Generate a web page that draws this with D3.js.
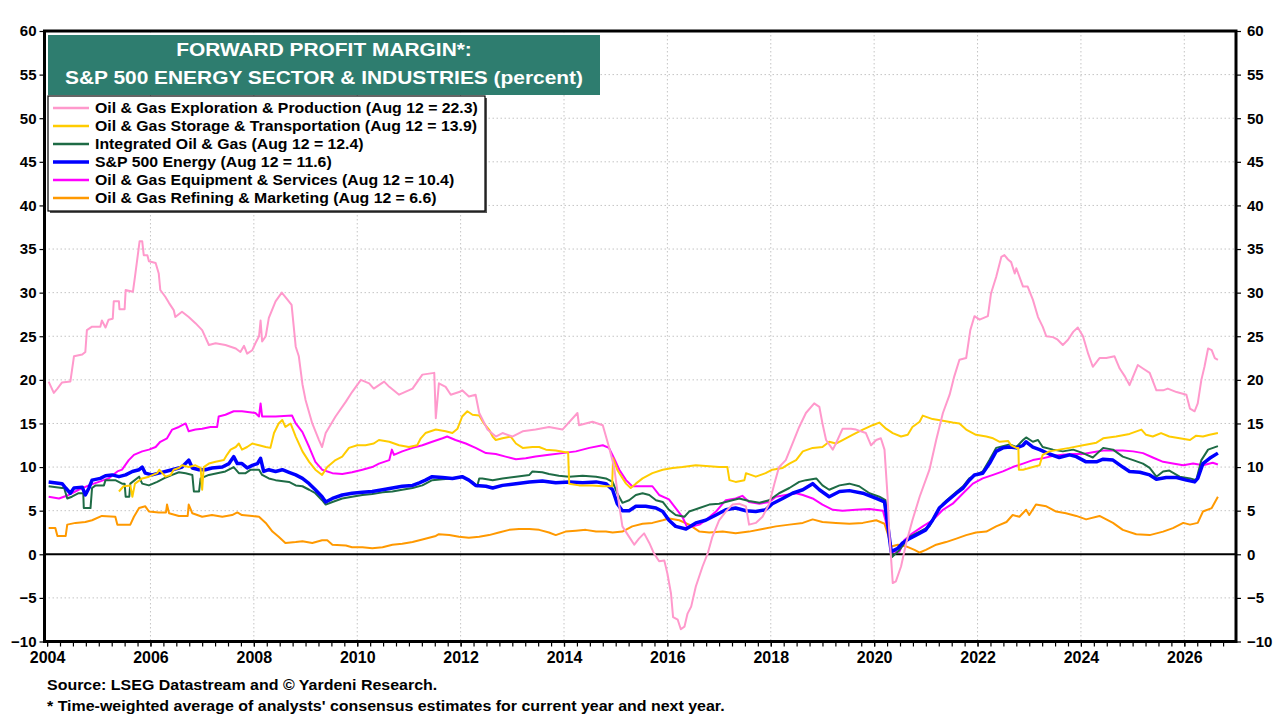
<!DOCTYPE html>
<html>
<head>
<meta charset="utf-8">
<script src="https://cdn.jsdelivr.net/npm/d3@7"></script>
<style>
  body { margin: 0; background: #fff; }
  svg { display: block; }
  text { font-family: "Liberation Sans", Arial, sans-serif; font-weight: bold; }
</style>
</head>
<body>
<div id="chart"></div>
<script>
/* DATA: [decimal year, percent] */
const explorationProduction = [[2004.03,19.8],[2004.13,18.5],[2004.2,19.0],[2004.29,19.7],[2004.45,19.8],[2004.52,22.7],[2004.68,22.9],[2004.74,23.2],[2004.77,25.7],[2004.87,26.1],[2005.03,26.1],[2005.06,26.8],[2005.13,26.0],[2005.19,26.9],[2005.27,27.0],[2005.29,29.0],[2005.39,29.0],[2005.4,28.1],[2005.5,28.1],[2005.52,30.3],[2005.66,30.1],[2005.7,31.8],[2005.79,35.9],[2005.84,35.9],[2005.87,34.3],[2005.94,34.3],[2005.97,33.6],[2006.1,33.4],[2006.16,32.2],[2006.19,30.3],[2006.29,29.5],[2006.36,28.8],[2006.45,28.0],[2006.48,27.2],[2006.61,27.8],[2006.74,27.2],[2006.87,26.5],[2007.0,25.7],[2007.13,24.0],[2007.26,24.2],[2007.45,24.0],[2007.65,23.6],[2007.74,23.2],[2007.81,23.9],[2007.87,23.0],[2007.97,23.4],[2008.03,24.2],[2008.1,25.0],[2008.13,26.8],[2008.16,24.4],[2008.23,25.0],[2008.29,27.1],[2008.42,29.0],[2008.54,30.0],[2008.65,29.2],[2008.73,28.6],[2008.81,23.8],[2008.87,22.7],[2008.94,19.5],[2009.0,17.7],[2009.13,15.0],[2009.26,13.1],[2009.32,12.3],[2009.39,13.9],[2009.58,15.8],[2009.78,17.5],[2009.9,18.6],[2010.07,20.0],[2010.23,19.6],[2010.32,19.0],[2010.52,19.8],[2010.62,19.2],[2010.81,18.3],[2011.07,19.0],[2011.26,20.6],[2011.49,20.8],[2011.52,15.6],[2011.58,19.6],[2011.71,19.2],[2011.81,18.3],[2011.97,18.6],[2012.03,18.8],[2012.16,18.1],[2012.29,18.3],[2012.36,16.2],[2012.52,14.3],[2012.68,13.5],[2012.81,13.9],[2013.0,13.5],[2013.2,14.1],[2013.45,14.3],[2013.71,14.6],[2013.97,14.3],[2014.26,16.2],[2014.29,14.8],[2014.55,15.2],[2014.75,14.8],[2014.87,12.3],[2014.97,10.0],[2015.07,5.5],[2015.13,3.2],[2015.26,2.0],[2015.36,1.1],[2015.45,1.8],[2015.55,2.4],[2015.65,1.3],[2015.74,0.1],[2015.84,-0.8],[2015.94,-0.7],[2016.0,-2.2],[2016.07,-4.5],[2016.11,-7.2],[2016.2,-7.5],[2016.26,-8.6],[2016.33,-8.3],[2016.39,-6.8],[2016.46,-6.0],[2016.55,-3.7],[2016.68,-1.4],[2016.78,0.1],[2016.87,2.0],[2017.0,3.9],[2017.13,4.9],[2017.26,5.7],[2017.39,5.8],[2017.52,5.5],[2017.58,3.4],[2017.71,3.6],[2017.84,4.3],[2017.97,5.8],[2018.07,8.1],[2018.16,10.0],[2018.29,10.8],[2018.42,12.7],[2018.55,14.6],[2018.68,16.2],[2018.84,17.3],[2018.94,16.9],[2019.0,15.0],[2019.07,13.1],[2019.2,12.0],[2019.26,12.7],[2019.39,14.4],[2019.55,14.4],[2019.65,14.3],[2019.84,13.9],[2019.94,12.5],[2020.04,13.1],[2020.13,13.3],[2020.2,12.0],[2020.26,6.6],[2020.29,2.8],[2020.33,-0.7],[2020.36,-3.3],[2020.42,-3.1],[2020.52,-1.4],[2020.62,1.3],[2020.74,3.9],[2020.88,6.6],[2021.07,9.7],[2021.2,13.1],[2021.33,16.2],[2021.46,18.3],[2021.55,20.4],[2021.65,22.3],[2021.78,22.5],[2021.86,25.7],[2021.94,27.3],[2022.04,26.9],[2022.2,27.3],[2022.26,29.9],[2022.36,31.8],[2022.46,34.1],[2022.52,34.3],[2022.59,33.8],[2022.65,33.5],[2022.72,32.2],[2022.75,32.8],[2022.88,30.7],[2022.97,30.7],[2023.07,29.2],[2023.17,27.2],[2023.26,26.1],[2023.33,25.0],[2023.46,24.9],[2023.55,24.6],[2023.65,24.0],[2023.75,24.6],[2023.85,25.5],[2023.94,26.0],[2024.04,25.0],[2024.14,23.0],[2024.23,21.5],[2024.36,22.5],[2024.49,22.5],[2024.65,22.7],[2024.75,21.3],[2024.85,20.4],[2024.94,19.4],[2025.01,20.4],[2025.1,21.7],[2025.2,21.3],[2025.33,20.8],[2025.46,18.8],[2025.59,18.8],[2025.68,19.0],[2025.85,18.6],[2026.04,18.3],[2026.11,16.7],[2026.2,16.4],[2026.26,17.3],[2026.33,20.0],[2026.39,21.5],[2026.46,23.6],[2026.53,23.4],[2026.59,22.5],[2026.65,22.3]];

const storageTransportation = [[2005.39,7.2],[2005.48,7.8],[2005.61,7.9],[2005.65,6.6],[2005.7,8.1],[2005.84,8.7],[2005.97,8.9],[2006.13,9.3],[2006.17,9.7],[2006.29,8.9],[2006.39,9.1],[2006.45,9.7],[2006.55,9.9],[2006.61,10.2],[2006.74,10.0],[2006.87,10.2],[2006.97,9.9],[2007.0,7.4],[2007.03,10.0],[2007.13,10.4],[2007.26,10.6],[2007.42,10.8],[2007.48,11.4],[2007.55,12.0],[2007.65,12.3],[2007.71,12.7],[2007.77,12.0],[2007.87,12.3],[2007.97,12.7],[2008.1,12.5],[2008.23,12.3],[2008.32,12.2],[2008.39,13.9],[2008.48,15.0],[2008.55,15.4],[2008.61,14.6],[2008.71,15.0],[2008.81,13.5],[2008.94,11.8],[2009.07,10.6],[2009.19,9.7],[2009.32,9.1],[2009.42,10.0],[2009.58,10.8],[2009.71,11.2],[2009.84,12.2],[2010.0,12.5],[2010.16,12.5],[2010.32,12.7],[2010.42,13.1],[2010.62,12.9],[2010.81,12.5],[2011.0,12.3],[2011.16,12.5],[2011.23,13.3],[2011.32,13.9],[2011.52,14.3],[2011.71,14.1],[2011.84,13.9],[2011.94,14.4],[2012.03,15.8],[2012.13,16.4],[2012.23,16.0],[2012.36,15.9],[2012.45,15.0],[2012.55,14.3],[2012.62,13.5],[2012.68,13.1],[2012.81,13.3],[2012.97,13.5],[2013.07,12.7],[2013.2,12.2],[2013.39,12.3],[2013.52,12.3],[2013.65,12.0],[2013.84,11.9],[2014.03,11.7],[2014.08,11.7],[2014.1,8.1],[2014.29,7.9],[2014.55,7.9],[2014.75,7.8],[2014.93,7.8],[2014.95,11.0],[2015.03,9.7],[2015.07,9.3],[2015.2,8.1],[2015.29,7.6],[2015.39,8.1],[2015.52,8.7],[2015.71,9.3],[2015.91,9.7],[2016.1,9.9],[2016.29,10.0],[2016.55,10.2],[2016.81,10.1],[2017.0,10.0],[2017.16,10.0],[2017.2,8.5],[2017.32,8.3],[2017.49,8.5],[2017.52,9.3],[2017.71,8.9],[2017.9,9.3],[2018.03,9.7],[2018.23,9.9],[2018.36,10.4],[2018.49,10.8],[2018.62,11.8],[2018.81,12.2],[2019.0,12.3],[2019.13,12.9],[2019.26,12.7],[2019.39,13.1],[2019.58,13.7],[2019.78,14.3],[2019.97,14.8],[2020.1,15.1],[2020.23,14.4],[2020.36,13.9],[2020.52,13.5],[2020.65,13.7],[2020.74,14.6],[2020.88,15.2],[2020.94,15.9],[2021.13,15.5],[2021.33,15.3],[2021.52,15.1],[2021.65,15.0],[2021.78,14.3],[2021.97,13.7],[2022.17,13.5],[2022.3,13.3],[2022.43,12.9],[2022.59,13.0],[2022.65,12.5],[2022.75,12.2],[2022.79,12.2],[2022.8,9.7],[2022.88,9.7],[2023.07,10.0],[2023.2,10.2],[2023.26,11.4],[2023.39,11.8],[2023.58,12.0],[2023.78,12.2],[2024.04,12.5],[2024.3,12.8],[2024.43,13.3],[2024.68,13.5],[2024.94,13.8],[2025.17,14.3],[2025.26,13.7],[2025.39,13.5],[2025.55,13.9],[2025.71,13.5],[2025.91,13.3],[2026.11,13.1],[2026.23,13.6],[2026.36,13.5],[2026.49,13.7],[2026.65,13.9]];

const integratedOilGas = [[2004.03,7.8],[2004.29,7.6],[2004.33,7.6],[2004.39,6.4],[2004.48,6.6],[2004.61,7.0],[2004.7,7.0],[2004.71,5.3],[2004.84,5.3],[2004.87,7.6],[2004.94,7.9],[2005.1,7.9],[2005.13,8.5],[2005.32,8.5],[2005.45,8.1],[2005.5,8.1],[2005.52,6.6],[2005.59,6.6],[2005.61,8.1],[2005.78,8.9],[2005.84,8.1],[2005.97,7.9],[2006.13,8.3],[2006.26,8.7],[2006.42,9.1],[2006.55,9.4],[2006.68,9.3],[2006.81,9.1],[2006.84,7.2],[2006.94,7.2],[2006.97,8.7],[2007.13,9.1],[2007.29,9.3],[2007.45,9.5],[2007.61,10.0],[2007.71,9.3],[2007.84,9.3],[2007.94,9.7],[2008.1,9.7],[2008.16,9.1],[2008.29,8.7],[2008.42,8.5],[2008.68,8.3],[2008.81,7.9],[2008.94,7.8],[2009.07,7.4],[2009.19,7.0],[2009.32,6.2],[2009.39,5.7],[2009.52,6.0],[2009.71,6.4],[2009.9,6.6],[2010.1,6.8],[2010.29,6.9],[2010.49,7.1],[2010.68,7.2],[2010.87,7.4],[2011.07,7.6],[2011.26,7.9],[2011.45,8.5],[2011.65,8.6],[2011.84,8.7],[2012.03,8.9],[2012.23,8.3],[2012.32,7.8],[2012.36,8.7],[2012.42,8.7],[2012.62,8.5],[2012.81,8.7],[2013.07,8.9],[2013.33,9.1],[2013.39,9.5],[2013.58,9.4],[2013.71,9.2],[2013.9,9.0],[2014.1,8.9],[2014.36,9.0],[2014.62,8.9],[2014.81,8.7],[2014.94,8.3],[2015.03,7.0],[2015.13,5.9],[2015.26,6.2],[2015.39,6.8],[2015.52,7.0],[2015.65,6.8],[2015.78,6.2],[2015.91,6.0],[2016.03,5.1],[2016.16,4.5],[2016.33,4.3],[2016.42,4.9],[2016.62,5.3],[2016.81,5.7],[2017.0,5.8],[2017.2,6.1],[2017.39,6.4],[2017.58,6.1],[2017.78,5.9],[2017.97,6.2],[2018.16,7.0],[2018.36,7.6],[2018.55,8.3],[2018.68,8.5],[2018.88,8.7],[2019.0,7.9],[2019.13,7.4],[2019.33,7.9],[2019.52,8.1],[2019.71,7.8],[2019.91,7.0],[2020.1,6.6],[2020.22,6.2],[2020.29,2.0],[2020.35,-0.3],[2020.49,0.5],[2020.68,2.0],[2020.88,2.6],[2021.07,3.2],[2021.2,4.7],[2021.33,5.8],[2021.52,6.8],[2021.72,7.8],[2021.84,8.7],[2021.97,9.1],[2022.1,9.5],[2022.23,10.8],[2022.36,12.2],[2022.49,12.4],[2022.62,12.6],[2022.75,12.3],[2022.88,13.1],[2022.94,13.4],[2023.07,12.9],[2023.17,13.1],[2023.26,12.3],[2023.46,12.0],[2023.65,11.8],[2023.85,12.0],[2024.04,11.6],[2024.23,11.1],[2024.43,12.2],[2024.62,12.0],[2024.81,11.2],[2025.01,10.8],[2025.2,10.4],[2025.33,9.9],[2025.46,8.9],[2025.59,9.5],[2025.71,9.6],[2025.91,8.9],[2026.11,8.7],[2026.23,8.5],[2026.33,10.8],[2026.46,12.0],[2026.65,12.4]];

const energySector = [[2004.03,8.3],[2004.29,8.1],[2004.36,7.6],[2004.45,7.0],[2004.52,7.6],[2004.68,7.7],[2004.74,6.8],[2004.81,7.6],[2004.87,8.5],[2005.03,8.7],[2005.13,9.0],[2005.26,9.1],[2005.39,8.9],[2005.52,9.1],[2005.65,9.5],[2005.78,9.7],[2005.84,10.0],[2005.9,9.3],[2006.03,9.1],[2006.16,9.3],[2006.29,9.5],[2006.42,9.7],[2006.55,9.9],[2006.61,10.0],[2006.74,10.8],[2006.81,9.9],[2006.94,9.7],[2007.06,9.7],[2007.19,9.9],[2007.39,10.0],[2007.52,10.4],[2007.61,11.2],[2007.68,10.4],[2007.77,10.4],[2007.87,9.9],[2007.97,10.2],[2008.07,10.4],[2008.13,11.0],[2008.19,9.5],[2008.29,9.7],[2008.42,9.5],[2008.55,9.7],[2008.68,9.4],[2008.81,9.1],[2008.94,8.7],[2009.07,8.1],[2009.19,7.4],[2009.32,6.6],[2009.39,6.0],[2009.52,6.4],[2009.71,6.8],[2009.9,7.0],[2010.1,7.1],[2010.29,7.2],[2010.49,7.4],[2010.68,7.6],[2010.87,7.8],[2011.07,7.9],[2011.2,8.2],[2011.32,8.5],[2011.45,8.9],[2011.65,8.8],[2011.84,8.7],[2012.03,8.9],[2012.16,8.5],[2012.29,7.9],[2012.49,7.8],[2012.62,7.6],[2012.81,7.9],[2013.07,8.1],[2013.33,8.3],[2013.58,8.4],[2013.84,8.2],[2014.1,8.3],[2014.36,8.2],[2014.62,8.3],[2014.81,8.1],[2014.94,7.4],[2015.03,5.8],[2015.13,5.0],[2015.26,5.0],[2015.39,5.5],[2015.58,5.5],[2015.78,5.3],[2015.91,4.9],[2016.03,3.9],[2016.16,3.2],[2016.36,2.9],[2016.55,3.6],[2016.74,3.9],[2016.94,4.5],[2017.13,5.1],[2017.32,5.3],[2017.52,5.0],[2017.71,4.9],[2017.9,5.1],[2018.03,5.8],[2018.23,6.4],[2018.42,7.0],[2018.62,7.4],[2018.81,8.1],[2018.94,7.4],[2019.13,6.6],[2019.33,7.2],[2019.52,7.3],[2019.78,7.0],[2020.04,6.4],[2020.2,6.0],[2020.26,3.5],[2020.33,0.3],[2020.46,0.7],[2020.55,1.3],[2020.68,1.8],[2020.81,2.2],[2021.0,2.8],[2021.13,3.9],[2021.26,5.3],[2021.39,6.0],[2021.59,7.0],[2021.72,7.6],[2021.84,8.5],[2021.94,9.1],[2022.1,9.3],[2022.23,10.4],[2022.36,11.8],[2022.49,12.2],[2022.62,12.3],[2022.75,12.2],[2022.88,12.5],[2022.94,12.9],[2023.07,12.3],[2023.2,12.0],[2023.39,11.5],[2023.58,11.1],[2023.78,11.4],[2023.91,11.2],[2024.1,10.6],[2024.3,10.6],[2024.43,10.9],[2024.62,10.8],[2024.81,10.0],[2024.94,9.5],[2025.14,9.4],[2025.33,9.1],[2025.46,8.6],[2025.65,8.8],[2025.85,8.8],[2026.04,8.5],[2026.2,8.3],[2026.26,8.7],[2026.36,10.4],[2026.49,11.0],[2026.65,11.6]];

const equipmentServices = [[2004.03,6.6],[2004.23,6.4],[2004.42,6.8],[2004.61,7.4],[2004.81,7.9],[2005.0,8.3],[2005.19,8.7],[2005.36,9.5],[2005.45,9.7],[2005.58,10.8],[2005.68,11.4],[2005.84,11.8],[2005.97,12.0],[2006.1,12.3],[2006.19,12.9],[2006.32,13.3],[2006.42,14.3],[2006.55,14.6],[2006.68,15.0],[2006.74,14.1],[2006.87,14.3],[2007.0,14.4],[2007.16,14.6],[2007.29,14.6],[2007.32,15.8],[2007.45,16.0],[2007.61,16.4],[2007.77,16.4],[2008.03,16.2],[2008.1,15.8],[2008.13,17.3],[2008.16,15.8],[2008.42,15.8],[2008.74,15.9],[2008.81,15.0],[2008.94,14.0],[2009.07,12.3],[2009.19,10.6],[2009.32,9.7],[2009.52,9.3],[2009.71,9.2],[2009.9,9.4],[2010.1,9.7],[2010.29,10.0],[2010.42,10.4],[2010.62,10.8],[2010.67,12.0],[2010.71,11.4],[2010.87,11.8],[2011.07,12.2],[2011.26,12.5],[2011.45,12.9],[2011.65,13.3],[2011.74,13.5],[2011.9,13.1],[2012.1,12.7],[2012.29,12.2],[2012.49,11.6],[2012.68,11.5],[2012.87,11.2],[2013.07,10.9],[2013.26,11.0],[2013.45,11.2],[2013.71,11.4],[2013.97,11.6],[2014.23,11.8],[2014.49,12.2],[2014.75,12.5],[2014.87,12.2],[2014.97,11.0],[2015.07,9.7],[2015.2,8.5],[2015.32,7.8],[2015.52,7.8],[2015.71,7.8],[2015.84,6.8],[2016.03,6.3],[2016.16,5.3],[2016.29,4.3],[2016.39,3.0],[2016.49,3.2],[2016.62,3.4],[2016.74,3.9],[2016.94,4.9],[2017.13,6.2],[2017.32,6.4],[2017.45,6.7],[2017.58,6.0],[2017.78,5.8],[2017.97,6.0],[2018.1,6.6],[2018.29,6.8],[2018.49,7.0],[2018.62,6.8],[2018.81,6.4],[2019.0,5.7],[2019.2,5.1],[2019.39,5.0],[2019.65,5.1],[2019.91,5.2],[2020.17,5.0],[2020.26,3.0],[2020.34,0.3],[2020.49,0.3],[2020.58,1.6],[2020.74,2.4],[2020.94,3.2],[2021.13,3.9],[2021.33,5.1],[2021.52,5.8],[2021.72,7.0],[2021.91,8.1],[2022.1,8.7],[2022.3,9.1],[2022.49,9.5],[2022.68,10.0],[2022.88,10.4],[2023.07,10.8],[2023.26,11.0],[2023.46,11.3],[2023.65,11.4],[2023.85,11.5],[2024.04,11.5],[2024.23,11.7],[2024.43,11.9],[2024.62,11.9],[2024.81,11.9],[2025.01,11.8],[2025.2,11.6],[2025.39,11.1],[2025.59,10.6],[2025.78,10.4],[2025.98,10.2],[2026.17,10.4],[2026.36,10.2],[2026.55,10.5],[2026.65,10.3]];

const refiningMarketing = [[2004.03,3.0],[2004.16,3.0],[2004.2,2.1],[2004.36,2.1],[2004.39,3.4],[2004.55,3.6],[2004.74,3.7],[2004.87,3.9],[2005.06,4.4],[2005.32,4.3],[2005.36,3.4],[2005.61,3.4],[2005.68,4.3],[2005.78,5.3],[2005.9,5.5],[2005.97,4.9],[2006.16,4.8],[2006.3,4.8],[2006.32,5.7],[2006.36,4.7],[2006.55,4.4],[2006.72,4.4],[2006.74,5.7],[2006.81,4.7],[2007.0,4.3],[2007.19,4.5],[2007.39,4.3],[2007.58,4.5],[2007.68,4.8],[2007.77,4.5],[2007.97,4.4],[2008.1,4.3],[2008.23,3.6],[2008.36,2.6],[2008.48,2.0],[2008.61,1.3],[2008.81,1.4],[2008.94,1.5],[2009.13,1.3],[2009.32,1.6],[2009.42,1.6],[2009.52,1.1],[2009.78,1.0],[2009.9,0.8],[2010.1,0.8],[2010.29,0.7],[2010.49,0.8],[2010.68,1.1],[2010.87,1.2],[2011.07,1.4],[2011.26,1.7],[2011.52,2.1],[2011.58,2.3],[2011.78,2.2],[2011.97,2.0],[2012.16,1.9],[2012.36,2.0],[2012.55,2.2],[2012.74,2.5],[2012.94,2.8],[2013.13,2.9],[2013.33,2.9],[2013.52,2.8],[2013.71,2.5],[2013.84,2.2],[2014.03,2.6],[2014.23,2.7],[2014.42,2.8],[2014.62,2.6],[2014.81,2.6],[2014.94,2.5],[2015.13,2.6],[2015.32,3.2],[2015.52,3.5],[2015.71,3.6],[2015.91,3.9],[2016.03,4.1],[2016.23,3.9],[2016.42,3.4],[2016.62,2.6],[2016.81,2.5],[2017.07,2.6],[2017.32,2.4],[2017.58,2.6],[2017.84,2.9],[2018.1,3.2],[2018.36,3.4],[2018.62,3.6],[2018.81,4.0],[2019.0,3.7],[2019.26,3.6],[2019.52,3.5],[2019.78,3.6],[2020.04,3.9],[2020.2,3.5],[2020.26,2.4],[2020.33,0.9],[2020.46,1.1],[2020.62,0.9],[2020.78,0.5],[2020.88,0.2],[2021.0,0.5],[2021.2,1.1],[2021.39,1.4],[2021.59,1.8],[2021.78,2.2],[2021.97,2.5],[2022.17,2.6],[2022.36,3.2],[2022.56,3.7],[2022.68,4.5],[2022.81,4.3],[2022.94,5.1],[2023.0,4.5],[2023.13,5.7],[2023.33,5.5],[2023.52,4.9],[2023.71,4.7],[2023.91,4.4],[2024.1,4.0],[2024.36,4.4],[2024.62,3.6],[2024.81,2.8],[2025.07,2.3],[2025.33,2.2],[2025.59,2.6],[2025.78,3.0],[2025.98,3.6],[2026.11,3.4],[2026.26,3.6],[2026.36,4.9],[2026.53,5.3],[2026.65,6.6]];

const legendLabels = [
  "Oil & Gas Exploration & Production (Aug 12 = 22.3)",
  "Oil & Gas Storage & Transportation (Aug 12 = 13.9)",
  "Integrated Oil & Gas (Aug 12 = 12.4)",
  "S&P 500 Energy (Aug 12 = 11.6)",
  "Oil & Gas Equipment & Services (Aug 12 = 10.4)",
  "Oil & Gas Refining & Marketing (Aug 12 = 6.6)"
];
const yTickValues = [-10, -5, 0, 5, 10, 15, 20, 25, 30, 35, 40, 45, 50, 55, 60];
const xLabelYears = [2004, 2006, 2008, 2010, 2012, 2014, 2016, 2018, 2020, 2022, 2024, 2026];
const titleLines = ["FORWARD PROFIT MARGIN*:", "S&P 500 ENERGY SECTOR & INDUSTRIES (percent)"];
const footnotes = [
  "Source: LSEG Datastream and \u00A9 Yardeni Research.",
  "* Time-weighted average of analysts' consensus estimates for current  year and next year."
];

/* CONSTANTS */
const width = 1280, height = 720;
const margin = { top: 31, right: 44, bottom: 78.5, left: 44.5 };

// legend order; z is the drawing order
const series = [
  { data: explorationProduction, color: "#FF99CC", w: 2, z: 6 },
  { data: storageTransportation, color: "#FFCC00", w: 2, z: 5 },
  { data: integratedOilGas, color: "#1E6B45", w: 2, z: 3 },
  { data: energySector, color: "#0000FF", w: 3.5, z: 4 },
  { data: equipmentServices, color: "#FF00FF", w: 2, z: 2 },
  { data: refiningMarketing, color: "#FF9900", w: 2, z: 1 }
].map((s, i) => ({ ...s, label: legendLabels[i] }));

// the original lettering is a little wider than Liberation Sans
function widen(sel, factor) {
  sel.each(function () {
    const len = this.getComputedTextLength();
    d3.select(this)
      .attr("textLength", len * factor)
      .attr("lengthAdjust", "spacingAndGlyphs");
  });
}

const svg = d3.select("#chart").append("svg")
  .attr("width", width)
  .attr("height", height);

const x = d3.scaleLinear()
  .domain([2003.95, 2027])
  .range([margin.left, width - margin.right]);

const y = d3.scaleLinear()
  .domain([-10, 60])
  .range([height - margin.bottom, margin.top]);

/* GRID */
const grid = svg.append("g")
  .attr("stroke", "#c4c4c4")
  .attr("stroke-width", 1)
  .attr("stroke-dasharray", "1.5,2.5");

grid.selectAll("line.h")
  .data(yTickValues.filter(v => v > -10 && v < 60 && v !== 0))
  .join("line")
  .attr("class", "h")
  .attr("x1", x.range()[0]).attr("x2", x.range()[1])
  .attr("y1", d => y(d)).attr("y2", d => y(d));

grid.selectAll("line.v")
  .data(xLabelYears.filter(v => v > 2004))
  .join("line")
  .attr("class", "v")
  .attr("x1", d => x(d)).attr("x2", d => x(d))
  .attr("y1", y.range()[1]).attr("y2", y.range()[0]);

/* ZERO LINE */
svg.append("line")
  .attr("x1", x.range()[0]).attr("x2", x.range()[1])
  .attr("y1", y(0)).attr("y2", y(0))
  .attr("stroke", "#000")
  .attr("stroke-width", 2);

/* LINES */
const line = d3.line()
  .x(d => x(d[0]))
  .y(d => y(d[1]));

svg.append("g")
  .attr("fill", "none")
  .attr("stroke-linejoin", "round")
  .selectAll("path")
  .data(series.slice().sort((a, b) => a.z - b.z))
  .join("path")
  .attr("d", d => line(d.data))
  .attr("stroke", d => d.color)
  .attr("stroke-width", d => d.w);

/* AXES */
const yLeft = svg.append("g")
  .attr("transform", `translate(${x.range()[0]},0)`)
  .call(d3.axisLeft(y).tickValues(yTickValues).tickSize(5).tickPadding(3));

const yRight = svg.append("g")
  .attr("transform", `translate(${x.range()[1]},0)`)
  .call(d3.axisRight(y).tickValues(yTickValues).tickSize(5).tickPadding(6));

const quarters = d3.range(2004, 2027, 0.25);
const xMinor = svg.append("g")
  .attr("transform", `translate(0,${y.range()[0]})`)
  .call(d3.axisBottom(x).tickValues(quarters).tickSize(5).tickFormat(""));

const xLabels = svg.append("g")
  .attr("transform", `translate(0,${y.range()[0]})`)
  .call(d3.axisBottom(x).tickValues(xLabelYears).tickSize(5).tickPadding(5).tickFormat(d3.format("d")));

[yLeft, yRight, xMinor, xLabels].forEach(g => {
  g.select(".domain").remove();
  g.selectAll(".tick line").attr("stroke", "#000").attr("stroke-width", 1.2);
  g.selectAll("text")
    .attr("fill", "#000")
    .style("font-family", '"Liberation Sans", Arial, sans-serif')
    .style("font-weight", "bold");
});
yLeft.selectAll("text").style("font-size", "15px");
yRight.selectAll("text").style("font-size", "15px");
xLabels.selectAll("text").style("font-size", "16px");

/* FRAME */
svg.append("rect")
  .attr("x", x.range()[0]).attr("y", y.range()[1])
  .attr("width", x.range()[1] - x.range()[0])
  .attr("height", y.range()[0] - y.range()[1])
  .attr("fill", "none")
  .attr("stroke", "#000")
  .attr("stroke-width", 3);

/* TITLE */
const titleBox = { x: 48, y: 35, w: 552, h: 60 };
svg.append("rect")
  .attr("x", titleBox.x).attr("y", titleBox.y)
  .attr("width", titleBox.w).attr("height", titleBox.h)
  .attr("fill", "#2E7D6F");

svg.selectAll("text.title")
  .data(titleLines)
  .join("text")
  .attr("class", "title")
  .attr("x", titleBox.x + titleBox.w / 2)
  .attr("y", (d, i) => titleBox.y + 21 + i * 28)
  .attr("text-anchor", "middle")
  .attr("fill", "#fff")
  .style("font-size", "19px")
  .text(d => d)
  .call(widen, 1.1);

/* LEGEND */
const legendBox = { x: 48, y: 96, w: 437, h: 115 };
svg.append("rect")
  .attr("x", legendBox.x + 2).attr("y", legendBox.y + 2)
  .attr("width", legendBox.w).attr("height", legendBox.h)
  .attr("fill", "#555");
svg.append("rect")
  .attr("x", legendBox.x).attr("y", legendBox.y)
  .attr("width", legendBox.w).attr("height", legendBox.h)
  .attr("fill", "#fff")
  .attr("stroke", "#000")
  .attr("stroke-width", 1.2);

const legendItem = svg.append("g")
  .selectAll("g")
  .data(series)
  .join("g")
  .attr("transform", (d, i) => `translate(${legendBox.x}, ${legendBox.y + 12 + i * 18})`);

legendItem.append("line")
  .attr("x1", 5).attr("x2", 41)
  .attr("stroke", d => d.color)
  .attr("stroke-width", d => d.w === 2 ? 2.5 : 3.5);

legendItem.append("text")
  .attr("x", 47)
  .attr("y", 5)
  .style("font-size", "14px")
  .attr("fill", "#000")
  .text(d => d.label)
  .call(widen, 1.13);

/* FOOTNOTES */
svg.selectAll("text.foot")
  .data(footnotes)
  .join("text")
  .attr("class", "foot")
  .attr("x", 47)
  .attr("y", (d, i) => 690 + i * 21)
  .style("font-size", "14px")
  .attr("fill", "#000")
  .text(d => d)
  .call(widen, 1.14);
</script>
</body>
</html>
